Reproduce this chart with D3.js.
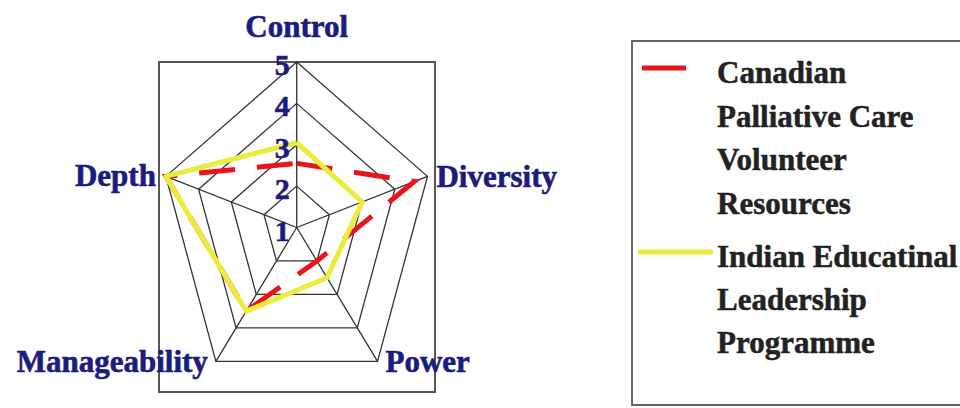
<!DOCTYPE html>
<html>
<head>
<meta charset="utf-8">
<script src="https://cdn.jsdelivr.net/npm/d3@7"></script>
<style>
  body { margin: 0; background: #fff; }
  text { font-family: "Liberation Serif", "Times New Roman", serif; font-weight: bold; }
</style>
</head>
<body>
<div id="root"></div>
<script>
const axes = ["Control", "Diversity", "Power", "Manageability", "Depth"];
const canadian = [2.55, 4.6, 2.0, 3.5, 5];
const indian = [3.05, 3.0, 2.5, 3.5, 5];
const ticks = [1, 2, 3, 4, 5];
const legendCanadian = ["Canadian", "Palliative Care", "Volunteer", "Resources"];
const legendIndian = ["Indian Educatinal", "Leadership", "Programme"];

const width = 960, height = 408;
const cx = 296.7, cy = 227.5;
const sx = 0.831; // the picture is squeezed sideways

const svg = d3.select("#root").append("svg")
    .attr("width", width)
    .attr("height", height);

let r = d3.scaleLinear().domain([1, 5]).range([0, 165.5]);
let angle = d3.scaleLinear().domain([0, axes.length]).range([0, 2 * Math.PI]);

const px = (i, v) => cx + sx * r(v) * Math.sin(angle(i));
const py = (i, v) => cy - r(v) * Math.cos(angle(i));

let line = d3.line().x(d => px(d.i, d.v)).y(d => py(d.i, d.v));
const closed = vals => vals.map((v, i) => ({ i, v })).concat([{ i: 0, v: vals[0] }]);

// plot frame
svg.append("rect")
    .attr("x", 159).attr("y", py(0, 5))
    .attr("width", 276).attr("height", 392 - py(0, 5))
    .attr("fill", "none").attr("stroke", "#555").attr("stroke-width", 2);

// rings and spokes
let grid = svg.append("g").attr("stroke", "#333").attr("stroke-width", 1.3).attr("fill", "none");
grid.selectAll(".ring")
    .data(ticks.slice(1))
    .enter().append("path")
    .attr("class", "ring")
    .attr("d", t => line(closed(axes.map(() => t))));
grid.selectAll(".spoke")
    .data(axes)
    .enter().append("line")
    .attr("class", "spoke")
    .attr("x1", cx).attr("y1", cy)
    .attr("x2", (d, i) => px(i, 5)).attr("y2", (d, i) => py(i, 5));

// series (second series drawn on top, as in the original)
svg.append("path")
    .attr("d", line(closed(canadian)))
    .attr("fill", "none").attr("stroke", "#e8141c").attr("stroke-width", 5)
    .attr("stroke-dasharray", "36,22");
svg.append("path")
    .attr("d", line(closed(indian)))
    .attr("fill", "none").attr("stroke", "#ecec3c").attr("stroke-width", 5)
    .attr("stroke-linejoin", "round");

// tick labels
svg.selectAll(".tick")
    .data(ticks)
    .enter().append("text")
    .attr("class", "tick")
    .attr("x", cx - 7)
    .attr("y", t => py(0, t) + 13)
    .attr("text-anchor", "end")
    .style("font-size", "30px")
    .attr("fill", "#1b1b80")
    .attr("stroke", "#1b1b80").attr("stroke-width", 0.6)
    .text(t => t);

// axis labels
const labelPos = [
    { dx: 0, dy: -25, anchor: "middle" },
    { dx: 9, dy: 11, anchor: "start" },
    { dx: 8, dy: 11, anchor: "start" },
    { dx: -8, dy: 11, anchor: "end" },
    { dx: -10, dy: 10, anchor: "end" }
];
svg.selectAll(".axis-label")
    .data(axes)
    .enter().append("text")
    .attr("class", "axis-label")
    .attr("x", (d, i) => px(i, 5) + labelPos[i].dx)
    .attr("y", (d, i) => py(i, 5) + labelPos[i].dy)
    .attr("text-anchor", (d, i) => labelPos[i].anchor)
    .style("font-size", "31px")
    .attr("fill", "#1b1b80")
    .attr("stroke", "#1b1b80").attr("stroke-width", 0.6)
    .text(d => d);

// legend
let legend = svg.append("g");
legend.append("rect")
    .attr("x", 632).attr("y", 41)
    .attr("width", 400).attr("height", 364)
    .attr("fill", "none").attr("stroke", "#666").attr("stroke-width", 2);

legend.append("line")
    .attr("x1", 642).attr("x2", 686).attr("y1", 68).attr("y2", 68)
    .attr("stroke", "#e8141c").attr("stroke-width", 5);
legend.append("line")
    .attr("x1", 638).attr("x2", 713).attr("y1", 252).attr("y2", 252)
    .attr("stroke", "#ecec3c").attr("stroke-width", 5);

legend.selectAll(".l1")
    .data(legendCanadian)
    .enter().append("text")
    .attr("class", "l1")
    .attr("x", 717)
    .attr("y", (d, i) => 83 + i * 43.5)
    .style("font-size", "31px")
    .attr("fill", "#222")
    .attr("stroke", "#222").attr("stroke-width", 0.5)
    .text(d => d);

legend.selectAll(".l2")
    .data(legendIndian)
    .enter().append("text")
    .attr("class", "l2")
    .attr("x", 717)
    .attr("y", (d, i) => 267 + i * 43)
    .style("font-size", "31px")
    .attr("fill", "#222")
    .attr("stroke", "#222").attr("stroke-width", 0.5)
    .text(d => d);
</script>
</body>
</html>
